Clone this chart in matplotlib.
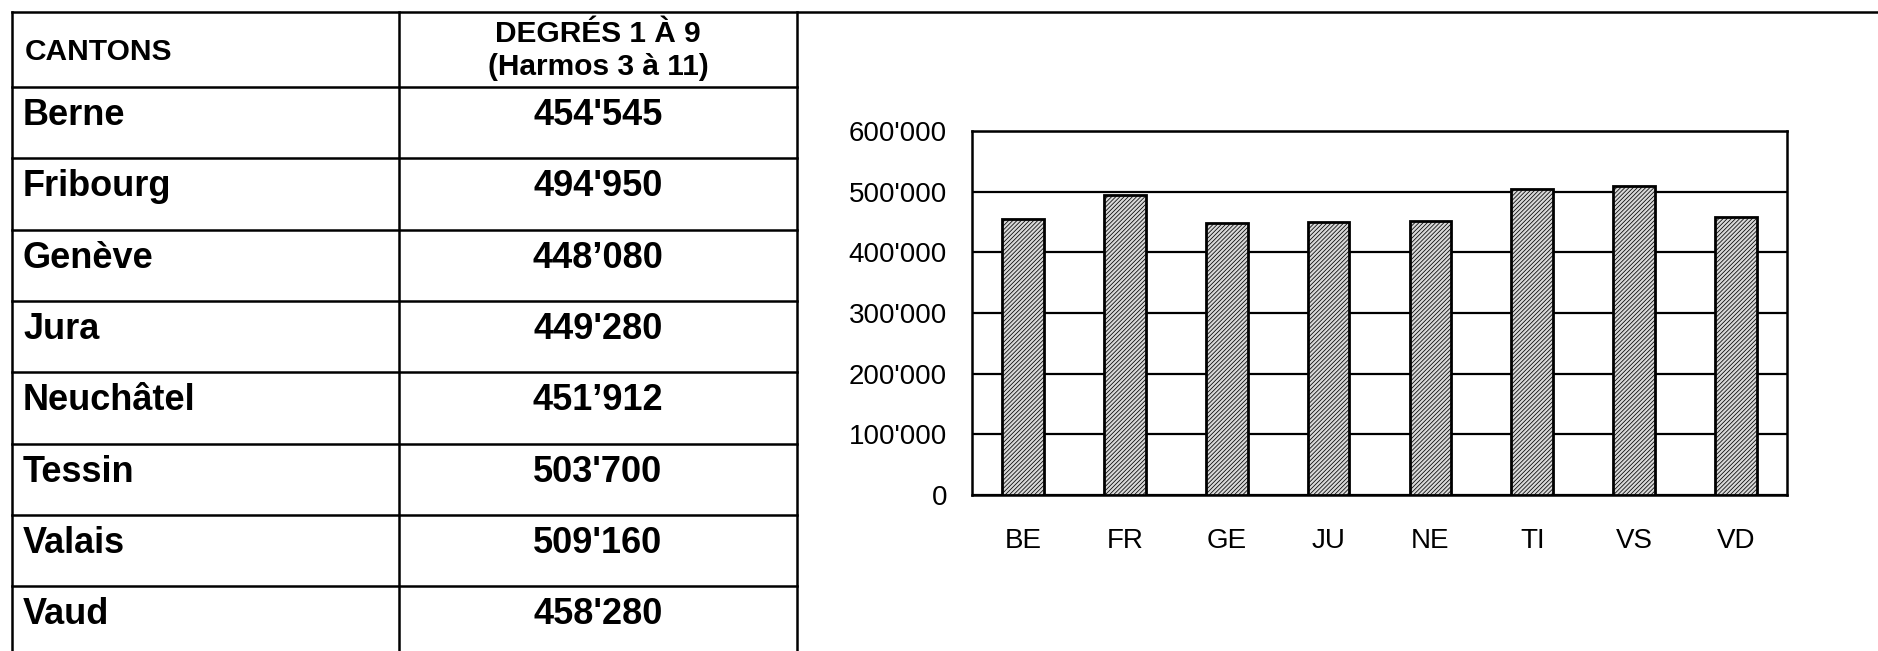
import matplotlib
matplotlib.use("Agg")
import matplotlib.pyplot as plt
from matplotlib.lines import Line2D
from matplotlib.ticker import FuncFormatter

# ---- data ----
cantons = ["Berne", "Fribourg", "Genève", "Jura", "Neuchâtel", "Tessin", "Valais", "Vaud"]
codes = ["BE", "FR", "GE", "JU", "NE", "TI", "VS", "VD"]
values = [454545, 494950, 448080, 449280, 451912, 503700, 509160, 458280]
value_labels = ["454'545", "494'950", "448’080", "449'280", "451’912", "503'700", "509'160", "458'280"]
header_left = "CANTONS"
header_right = ["DEGRÉS 1 À 9", "(Harmos 3 à 11)"]
y_ticks = [0, 100000, 200000, 300000, 400000, 500000, 600000]

plt.rcParams['font.family'] = ['Liberation Sans', 'DejaVu Sans']
plt.rcParams['hatch.linewidth'] = 0.55

W, H, DPI = 1878, 651, 100
fig = plt.figure(figsize=(W / DPI, H / DPI), dpi=DPI)
fig.patch.set_facecolor("white")

# ---- table overlay (pixel coordinates) ----
tab = fig.add_axes([0, 0, 1, 1])
tab.set_xlim(0, W)
tab.set_ylim(H, 0)
tab.axis("off")

x_left, x_mid, x_right = 12, 399, 797
y_top, y_head = 12, 87
row_h = 71.3
lw = 1.8

tab.add_line(Line2D([x_left, W], [y_top, y_top], color="black", lw=lw))
n = len(cantons)
y_bottom = y_head + row_h * n
for xx in (x_left, x_mid, x_right):
    tab.add_line(Line2D([xx, xx], [y_top, max(y_bottom, H + 5)], color="black", lw=lw))
for i in range(n):
    y = y_head + row_h * i
    tab.add_line(Line2D([x_left, x_right], [y, y], color="black", lw=lw))

tab.text(25, (y_top + y_head) / 2 + 2, header_left, fontsize=21.5, fontweight="bold",
         ha="left", va="center")
xc = (x_mid + x_right) / 2
tab.text(xc, 42, header_right[0], fontsize=21.5, fontweight="bold",
         ha="center", va="baseline")
tab.text(xc, 75, header_right[1], fontsize=21.5, fontweight="bold",
         ha="center", va="baseline")
for i, (name, lab) in enumerate(zip(cantons, value_labels)):
    yb = y_head + row_h * i + 38
    tab.text(23, yb, name, fontsize=26, fontweight="bold", ha="left", va="baseline")
    tab.text(xc, yb, lab, fontsize=26, fontweight="bold", ha="center", va="baseline")

# ---- bar chart ----
ax_l, ax_r, ax_t, ax_b = 972, 1787, 131, 495
ax = fig.add_axes([ax_l / W, 1 - ax_b / H, (ax_r - ax_l) / W, (ax_b - ax_t) / H])
xpos = list(range(len(codes)))
ax.bar(xpos, values, width=0.41, facecolor="#d8d8d8", edgecolor="black", linewidth=2.0,
       hatch="////////", zorder=3)
ax.set_xlim(-0.5, len(codes) - 0.5)
ax.set_ylim(0, 600000)
ax.set_yticks(y_ticks)
ax.yaxis.set_major_formatter(FuncFormatter(
    lambda v, p: "0" if v == 0 else f"{int(v):,}".replace(",", "'")))
ax.set_xticks(xpos)
ax.set_xticklabels(codes)
ax.tick_params(axis="y", length=0, pad=18, labelsize=20)
ax.tick_params(axis="x", length=0, pad=24, labelsize=20)
ax.grid(axis="y", color="black", linewidth=1.6, zorder=1)
ax.set_axisbelow(True)
for s in ax.spines.values():
    s.set_linewidth(1.8)
    s.set_color("black")

fig.savefig("out.png", dpi=DPI, facecolor="white")
